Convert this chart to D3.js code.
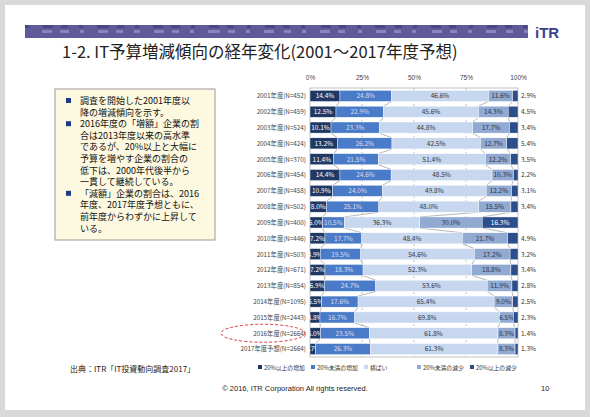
<!DOCTYPE html>
<html><head><meta charset="utf-8">
<script src="https://cdn.jsdelivr.net/npm/d3@7"></script>
<style>body{margin:0;background:#d9d9d9;font-family:"Noto Sans CJK JP","Noto Sans",sans-serif}</style>
</head><body>
<script>
var years = ["2001年度(N=452)","2002年度(N=459)","2003年度(N=524)","2004年度(N=424)","2005年度(N=370)",
  "2006年度(N=454)","2007年度(N=458)","2008年度(N=502)","2009年度(N=400)","2010年度(N=446)",
  "2011年度(N=503)","2012年度(N=671)","2013年度(N=854)","2014年度(N=1095)","2015年度(N=2443)",
  "2016年度(N=2664)","2017年度予想(N=2664)"];
var up20 = [14.4,12.5,10.1,13.2,11.4,14.4,10.9,8.0,6.0,7.2,4.9,7.2,6.9,5.5,4.8,5.0,2.7];
var upLess = [24.8,22.9,23.3,26.2,21.5,24.6,24.0,25.1,10.5,17.7,19.5,18.3,24.7,17.6,16.7,23.5,26.3];
var flat = [46.6,45.6,44.8,42.5,51.4,48.5,49.8,48.0,36.3,48.4,54.6,52.3,53.6,65.4,69.8,61.8,61.3];
var downLess = [11.6,14.3,17.7,12.7,12.2,10.3,12.2,15.5,30.0,21.7,17.2,18.8,11.9,9.0,6.5,8.3,8.3];
var down20 = [2.9,4.5,3.4,5.4,3.5,2.2,3.1,3.4,16.3,4.9,3.2,3.4,2.8,2.5,2.3,1.4,1.3];
var seriesNames = ["20%以上の増加","20%未満の増加","横ばい","20%未満の減少","20%以上の減少"];
var ticks = [0,25,50,75,100];
var colors = ["#1f3864","#4a7bc8","#c6d7ef","#90aad2","#2c4f8c"];
var textColors = ["#fff","#dde","#334","#334","#fff"];

var svg = d3.select("body").append("svg").attr("width",590).attr("height",417);
svg.append("rect").attr("x",5).attr("y",5).attr("width",580).attr("height",405).attr("fill","#fff");
// header band
var band = svg.append("g");
band.append("rect").attr("x",25).attr("y",25).attr("width",503).attr("height",13).attr("fill","#5f5a98");
d3.range(60).forEach(function(i){
  band.append("rect").attr("x",25+(i*37)%500).attr("y",25+(i*5)%10).attr("width",4+(i%3)*3).attr("height",3)
    .attr("fill",i%2?"#8a86bd":"#4a4585");
});
svg.append("text").attr("x",535).attr("y",38).attr("font-family","Arial,sans-serif").attr("font-weight","bold")
  .attr("font-size",15).attr("fill","#3a3f8c").text("iTR");
svg.append("text").attr("x",62).attr("y",58).attr("font-size",16.5).attr("fill","#222")
  .text("1-2. IT予算増減傾向の経年変化(2001～2017年度予想)");

// text box
svg.append("rect").attr("x",55).attr("y",89).attr("width",160).attr("height",151).attr("fill","#fdf8e0").attr("stroke","#999");
var lines = [[1,"調査を開始した2001年度以"],[0,"降の増減傾向を示す。"],[1,"2016年度の「増額」企業の割"],[0,"合は2013年度以来の高水準"],
  [0,"であるが、20%以上と大幅に"],[0,"予算を増やす企業の割合の"],[0,"低下は、2000年代後半から"],[0,"一貫して継続している。"],
  [1,"「減額」企業の割合は、2016"],[0,"年度、2017年度予想ともに、"],[0,"前年度からわずかに上昇して"],[0,"いる。"]];
lines.forEach(function(l,i){
  var y = 104+i*11.6;
  if(l[0]) svg.append("rect").attr("x",66).attr("y",y-6).attr("width",5).attr("height",5).attr("fill","#1f3a80");
  svg.append("text").attr("x",80).attr("y",y).attr("font-size",9).attr("fill","#111").text(l[1]);
});

var x = d3.scaleLinear().domain([0,100]).range([310,518]);
var y = d3.scaleBand().domain(years).range([88,357]).paddingInner(0.3).paddingOuter(0.15);
var g = svg.append("g");
g.append("g").attr("transform","translate(0,83)").call(d3.axisTop(x).tickValues(ticks).tickFormat(function(d){return d+"%";}).tickSize(0))
  .call(function(a){a.select(".domain").remove();a.selectAll("text").attr("font-size",6.5).attr("fill","#444");});
ticks.slice(1,4).forEach(function(t){
  g.append("line").attr("x1",x(t)).attr("x2",x(t)).attr("y1",88).attr("y2",357).attr("stroke","#999").attr("stroke-dasharray","2,2").attr("stroke-width",0.6);
});
g.append("rect").attr("x",x(0)).attr("y",88).attr("width",x(100)-x(0)).attr("height",269).attr("fill","none").attr("stroke","#999").attr("stroke-width",0.6);

var data = years.map(function(yr,i){return {yr:yr, v:[up20[i],upLess[i],flat[i],downLess[i],down20[i]]};});
data.forEach(function(d){
  var c=0; d.cum=[0];
  d.v.forEach(function(v){c+=v; d.cum.push(Math.min(c,100));});
  d.cum[5]=100;
});
// connector lines
for(var i=0;i<data.length-1;i++){
  for(var k=1;k<5;k++){
    g.append("line").attr("x1",x(data[i].cum[k])).attr("y1",y(data[i].yr)+y.bandwidth())
      .attr("x2",x(data[i+1].cum[k])).attr("y2",y(data[i+1].yr)).attr("stroke","#888").attr("stroke-width",0.6);
  }
}
data.forEach(function(d){
  var row = g.append("g");
  d.v.forEach(function(v,k){
    var x0=x(d.cum[k]), x1=x(d.cum[k+1]);
    row.append("rect").attr("x",x0).attr("y",y(d.yr)).attr("width",x1-x0).attr("height",y.bandwidth())
      .attr("fill",colors[k]).attr("stroke","#fff").attr("stroke-width",0.4);
    var inside = k<4 || v>10;
    row.append("text").attr("x",inside?(x0+x1)/2:x(100)+3).attr("y",y(d.yr)+y.bandwidth()/2+2.4)
      .attr("text-anchor",inside?"middle":"start").attr("font-size",6.5)
      .attr("fill",inside?textColors[k]:"#333").text(v.toFixed(1)+"%");
  });
  svg.append("text").attr("x",306).attr("y",y(d.yr)+y.bandwidth()/2+2.4).attr("text-anchor","end")
    .attr("font-size",6.3).attr("fill","#444").text(d.yr);
});
var e = y(years[15])+y.bandwidth()/2;
svg.append("ellipse").attr("cx",263).attr("cy",e).attr("rx",42).attr("ry",9).attr("fill","none")
  .attr("stroke","#d22").attr("stroke-dasharray","3,2").attr("stroke-width",0.9);

// legend
var lg = svg.append("g");
seriesNames.forEach(function(n,k){
  var lx = 258+k*53;
  lg.append("rect").attr("x",lx).attr("y",365).attr("width",4).attr("height",4).attr("fill",colors[k]);
  lg.append("text").attr("x",lx+6).attr("y",369.5).attr("font-size",5.8).attr("fill","#333").text(n);
});
svg.append("text").attr("x",70).attr("y",372).attr("font-size",8).attr("fill","#222").text("出典：ITR「IT投資動向調査2017」");
svg.append("text").attr("x",295).attr("y",391).attr("text-anchor","middle").attr("font-family","Arial,sans-serif")
  .attr("font-size",7.5).attr("fill","#222").text("© 2016, ITR Corporation  All rights reserved.");
svg.append("text").attr("x",541).attr("y",391).attr("font-family","Arial,sans-serif").attr("font-size",7.5).attr("fill","#222").text("10");
</script>
</body></html>
